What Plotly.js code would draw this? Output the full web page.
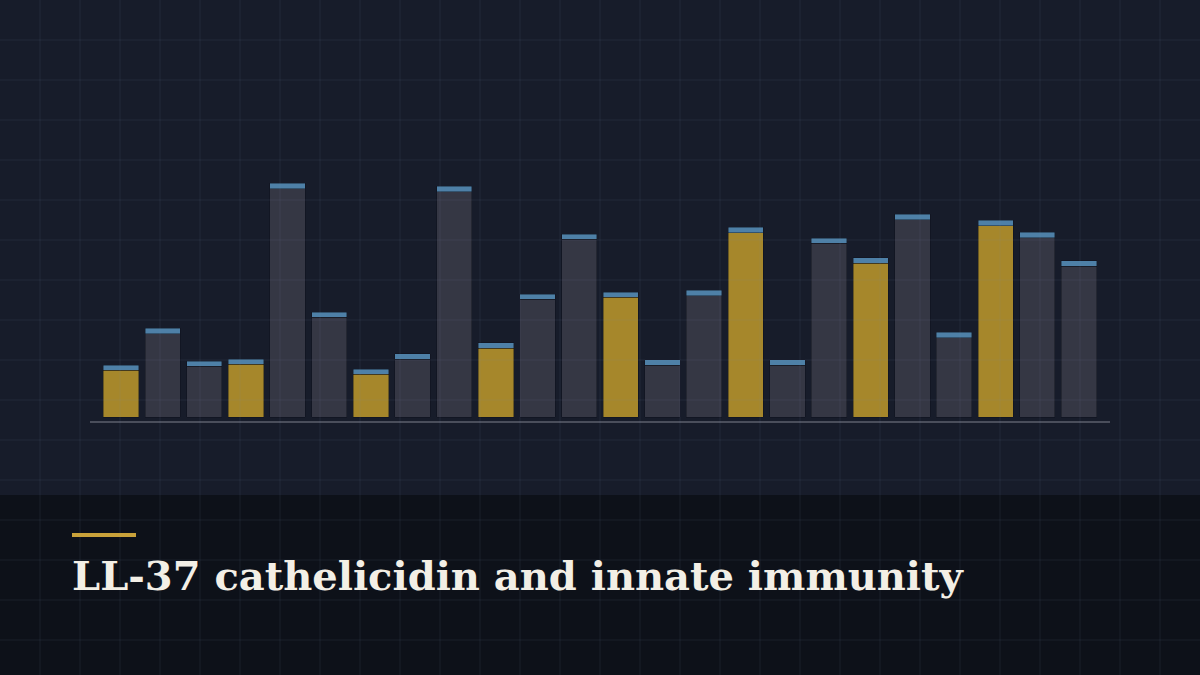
<!DOCTYPE html>
<html>
<head>
<meta charset="utf-8">
<script src="https://cdn.plot.ly/plotly-3.0.1.min.js"></script>
<style>
  html, body { margin: 0; padding: 0; background: #171c2a; }
  #chart { width: 1200px; height: 675px; }
</style>
</head>
<body>
<div id="chart"></div>
<script>
// Bar categories (no labels shown on the picture)
const positions = ['P1', 'P2', 'P3', 'P4', 'P5', 'P6', 'P7', 'P8', 'P9', 'P10', 'P11', 'P12',
  'P13', 'P14', 'P15', 'P16', 'P17', 'P18', 'P19', 'P20', 'P21', 'P22', 'P23', 'P24'];

// Total bar height per position
const levels = [20.8, 35.5, 22.4, 23.2, 93.5, 42.0, 19.2, 25.3, 92.3, 29.7, 49.2, 73.2,
  50.0, 22.9, 50.7, 75.9, 22.9, 71.6, 63.7, 81.1, 33.9, 78.7, 73.9, 62.5];

// Highlighted positions (gold bars)
const highlighted = [true, false, false, true, false, false, true, false, false, true, false, false,
  true, false, false, true, false, false, true, false, false, true, false, false];

// The thin blue cap on top of every bar
const capSize = 2.1;

const COLORS = {
  page: '#171c2a',
  band: '#0d1119',
  grid: 'rgba(120, 140, 180, 0.055)',
  gold: '#a6872b',
  grey: 'rgba(56, 58, 71, 0.92)',
  cap: '#4e80a7',
  outline: 'rgba(12, 16, 24, 0.5)',
  baseline: '#4a4e5b',
  accent: '#c9a23a',
  title: '#f3efe6',
};

const caps = levels.map(() => capSize);
const bodies = levels.map(v => v - capSize);

const bodyTrace = {
  type: 'bar',
  x: positions,
  y: bodies,
  xaxis: 'x',
  yaxis: 'y',
  marker: {
    color: highlighted.map(h => (h ? COLORS.gold : COLORS.grey)),
    line: { color: COLORS.outline, width: 0.8 },
  },
  hoverinfo: 'skip',
};

const capTrace = {
  type: 'bar',
  x: positions,
  y: caps,
  xaxis: 'x',
  yaxis: 'y',
  marker: {
    color: COLORS.cap,
    line: { color: COLORS.outline, width: 0.8 },
  },
  hoverinfo: 'skip',
};

const W = 1200;
const H = 675;

const layout = {
  width: W,
  height: H,
  margin: { l: 0, r: 0, t: 0, b: 0 },
  paper_bgcolor: COLORS.page,
  plot_bgcolor: 'rgba(0,0,0,0)',
  showlegend: false,
  barmode: 'stack',
  bargap: 0.152,
  // main bar axes
  xaxis: {
    domain: [90 / W, 1110 / W],
    range: [-0.745, 23.745],
    showgrid: false,
    zeroline: false,
    showticklabels: false,
    ticks: '',
    showline: true,
    linecolor: COLORS.baseline,
    linewidth: 2,
    fixedrange: true,
  },
  yaxis: {
    domain: [(H - 421) / H, (H - 150) / H],
    range: [-1.6, 106.8],
    showgrid: false,
    zeroline: false,
    showticklabels: false,
    showline: false,
    fixedrange: true,
  },
  // full-page background grid, 40 px squares
  xaxis2: {
    domain: [0, 1],
    range: [0, W],
    anchor: 'y2',
    dtick: 40,
    tick0: 0,
    showgrid: true,
    gridcolor: COLORS.grid,
    gridwidth: 2,
    zeroline: false,
    showticklabels: false,
    ticks: '',
    fixedrange: true,
  },
  yaxis2: {
    domain: [0, 1],
    range: [H, 0],
    anchor: 'x2',
    dtick: 40,
    tick0: 0,
    showgrid: true,
    gridcolor: COLORS.grid,
    gridwidth: 2,
    zeroline: false,
    showticklabels: false,
    ticks: '',
    fixedrange: true,
  },
  shapes: [
    // dark caption band
    {
      type: 'rect', xref: 'paper', yref: 'paper', layer: 'below',
      x0: 0, x1: 1, y0: 0, y1: (H - 495) / H,
      fillcolor: COLORS.band, line: { width: 0 },
    },
    // gold accent rule above the title
    {
      type: 'line', xref: 'paper', yref: 'paper',
      x0: 72 / W, x1: 136 / W, y0: (H - 535) / H, y1: (H - 535) / H,
      line: { color: COLORS.accent, width: 4 },
    },
  ],
  annotations: [
    {
      text: 'LL-37 cathelicidin and innate immunity',
      xref: 'paper', yref: 'paper',
      x: 70 / W, y: (H - 575) / H,
      xanchor: 'left', yanchor: 'middle',
      showarrow: false,
      font: {
        family: 'DejaVu Serif, Georgia, serif',
        size: 40,
        weight: 700,
        color: COLORS.title,
      },
    },
  ],
};

// an invisible trace so the grid subplot is drawn
const gridTrace = {
  type: 'scatter',
  x: [0],
  y: [0],
  xaxis: 'x2',
  yaxis: 'y2',
  mode: 'markers',
  marker: { opacity: 0 },
  hoverinfo: 'skip',
};

Plotly.newPlot('chart', [gridTrace, bodyTrace, capTrace], layout, {
  displayModeBar: false,
  staticPlot: true,
});
</script>
</body>
</html>
